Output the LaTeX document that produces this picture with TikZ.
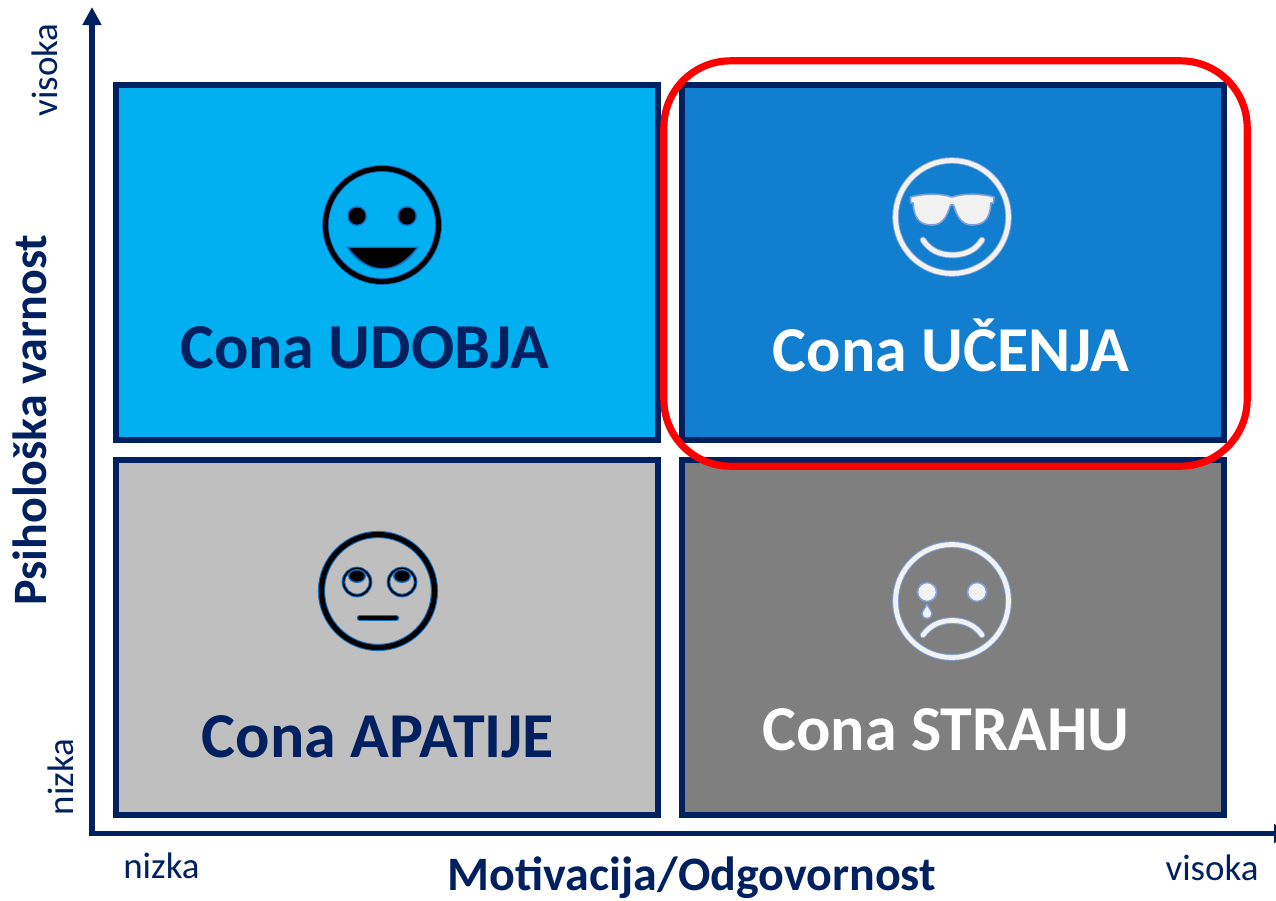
\documentclass[tikz,border=0pt]{standalone}
\usepackage{fontspec}
\setmainfont{Carlito}
\usetikzlibrary{arrows.meta}
\definecolor{navy}{HTML}{002060}
\definecolor{cyanbox}{HTML}{00B0F0}
\definecolor{bluebox}{HTML}{117ECF}
\definecolor{lgrey}{HTML}{BFBFBF}
\definecolor{dgrey}{HTML}{7F7F7F}
\definecolor{glowblue}{HTML}{0F6FC6}
\definecolor{glowlight}{HTML}{7F9FD8}
\definecolor{offwhite}{HTML}{F2F2F2}
\tikzset{
  x=0.75pt,y=-0.75pt,
  zone/.style={draw=navy,line width=4.5pt,minimum width=406.5pt,minimum height=266.25pt,inner sep=0pt,outer sep=0pt},
  zonetext/.style={font=\fontsize{48pt}{48pt}\selectfont\bfseries,anchor=base,inner sep=0pt},
  axistitle/.style={font=\fontsize{36pt}{36pt}\selectfont\bfseries,text=navy,anchor=base,inner sep=0pt},
  ticktext/.style={font=\fontsize{27.7pt}{28pt}\selectfont,text=navy,anchor=base,inner sep=0pt},
  axisline/.style={draw=navy,line width=4.4pt,line cap=butt},
  glowd/.style={draw=glowblue,line width=#1,line cap=round,line join=round},
  lined/.style={draw=black,line width=#1,line cap=round,line join=round},
  glowl/.style={draw=glowlight,line width=#1,line cap=round,line join=round},
  linel/.style={draw=offwhite,line width=#1,line cap=round,line join=round},
}
\begin{document}
\begin{tikzpicture}
\useasboundingbox (0,0) rectangle (1276,900);
\fill[white] (0,0) rectangle (1276,900);
% zones
\node[zone,fill=cyanbox] (udobja) at (386.5,262) {};
\node[zone,fill=bluebox] (ucenja) at (953,262) {};
\node[zone,fill=lgrey] (apatija) at (386.5,637) {};
\node[zone,fill=dgrey] (strah) at (953,637) {};
% axes
\coordinate (origin) at (92,833.5);
\coordinate (ytip) at (92,7);
\coordinate (xtip) at (1292,833.5);
\coordinate (xstart) at (89,833.5);
\draw[axisline,-{Triangle[length=13.5pt,width=13.5pt]}] (origin) -- (ytip);
\draw[axisline,-{Triangle[length=13.5pt,width=13.5pt]}] (xstart) -- (xtip);
% red highlight
\node[draw=red,line width=5.4pt,rounded corners=50pt,minimum width=437.5pt,minimum height=304pt,inner sep=0pt] (highlight) at (955.5,263.5) {};
% labels
\node[zonetext,text=navy] (t1) at (364.5,368) {Cona UDOBJA};
\node[zonetext,text=white] (t2) at (951,371) {Cona UČENJA};
\node[zonetext,text=navy] (t3) at (378,757) {Cona APATIJE};
\node[zonetext,text=white] (t4) at (946,750) {Cona STRAHU};
\node[axistitle] (xt) at (692,890) {Motivacija/Odgovornost};
\node[axistitle,rotate=90] (yt) at (46,420) {Psihološka varnost};
\node[ticktext] (xl) at (161.5,878) {nizka};
\node[ticktext] (xh) at (1212,880) {visoka};
\node[ticktext,rotate=90] (yl) at (73,777) {nizka};
\node[ticktext,rotate=90] (yh) at (57,70) {visoka};
% happy face
\draw[glowd=5.2pt] (382,225) circle (56.5);
\draw[lined=3.8pt] (382,225) circle (56.5);
\foreach \p in {(357,216),(407,216)}{
  \fill[glowblue] \p circle (10);
  \fill[black] \p circle (8.5);
}
\fill[glowblue] (346,246.5) -- (419,246.5) .. controls (409,262) and (396,269.5) .. (382.5,269.5) .. controls (369,269.5) and (356,262) .. cycle;
\fill[black] (349,248) -- (416,248) .. controls (406,261) and (395,268) .. (382.5,268) .. controls (370,268) and (359,261) .. cycle;
% sunglasses face
\draw[glowl=5pt] (952,217) circle (56.5);
\draw[linel=3.6pt] (952,217) circle (56.5);
\def\glasses{(910.5,197) .. controls (925,193) and (942,193.5) .. (952,197) .. controls (962,193.5) and (980,193) .. (994,197) -- (993.5,203) -- (991,203) .. controls (990,218) and (985,225) .. (972,225) .. controls (961,225) and (957,216) .. (953.5,205) -- (950.5,205) .. controls (947,216) and (943,225) .. (932,225) .. controls (919,225) and (914,218) .. (913,203) -- (910.5,203) -- cycle}
\draw[glowl=1.2pt,fill=offwhite] \glasses;
\draw[glowl=5pt] (923,240) .. controls (930,251) and (941,255) .. (952.5,255) .. controls (964,255) and (975,251) .. (982,240);
\draw[linel=3.6pt] (923,240) .. controls (930,251) and (941,255) .. (952.5,255) .. controls (964,255) and (975,251) .. (982,240);
% rolling-eyes face
\draw[glowd=5.4pt] (378,591) circle (56.5);
\draw[lined=3.8pt] (378,591) circle (56.5);
\foreach \p in {357,402}{
  \draw[glowd=2.8pt] (\p,582) circle (13.5);
  \draw[lined=1.3pt] (\p,582) circle (13.5);
  \fill[glowblue] (\p,576) ellipse (9 and 7);
  \fill[black] (\p,576) ellipse (7.5 and 5.5);
}
\draw[glowd=5pt] (360,618) -- (396,618);
\draw[lined=2.8pt] (360,618) -- (396,618);
% crying face
\draw[glowl=5pt] (952,601) circle (56.5);
\draw[linel=3.6pt] (952,601) circle (56.5);
\foreach \p in {927,977}{
  \draw[glowl=1.2pt,fill=offwhite] (\p,592) circle (9.5);
}
\draw[glowl=1pt,fill=offwhite] (927,604) .. controls (929,609) and (932,611) .. (932,614) .. controls (932,620) and (922,620) .. (922,614) .. controls (922,611) and (925,609) .. cycle;
\draw[glowl=5pt] (923,635) .. controls (930,625) and (941,620.5) .. (952.5,620.5) .. controls (964,620.5) and (975,625) .. (982,635);
\draw[linel=3.6pt] (923,635) .. controls (930,625) and (941,620.5) .. (952.5,620.5) .. controls (964,620.5) and (975,625) .. (982,635);
\end{tikzpicture}
\end{document}
